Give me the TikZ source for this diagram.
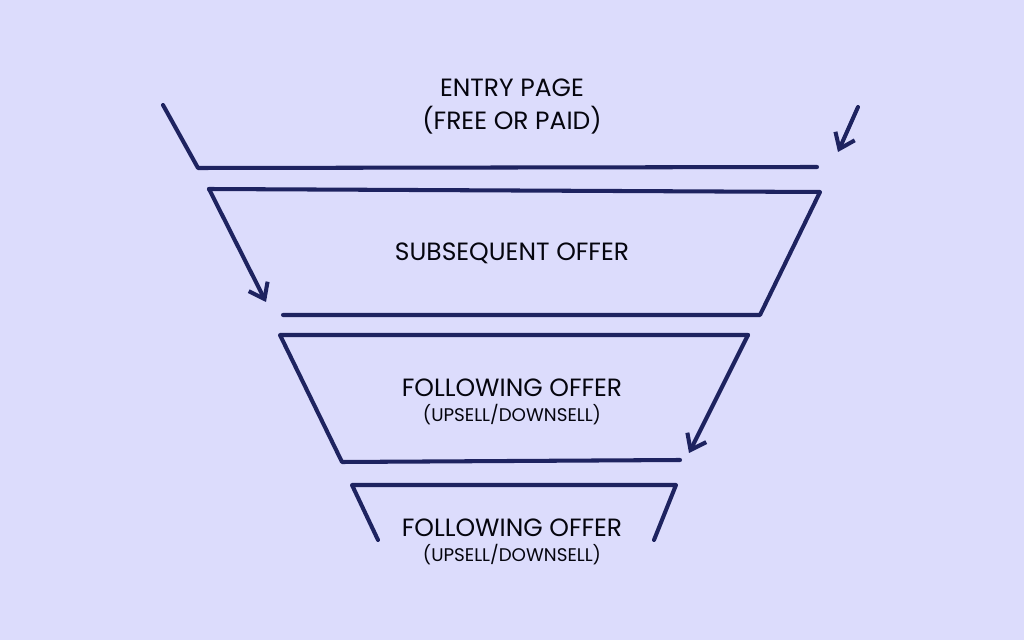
\documentclass[tikz,border=0pt]{standalone}
\usepackage{fontspec}
\setmainfont{Poppins}
\usetikzlibrary{arrows.meta}
\definecolor{bg}{HTML}{DCDCFC}
\definecolor{ink}{HTML}{1E2360}
\begin{document}
\begin{tikzpicture}[x=0.01cm,y=-0.01cm,
  stroke/.style={draw=ink,line width=1.15pt,line cap=round,line join=round},
  arr/.style={stroke,-{Straight Barb[length=4pt,width=6pt]}},
  big/.style={text=black!85!ink,font=\fontsize{7.1}{8}\selectfont},
  small/.style={text=black!85!ink,font=\fontsize{5.2}{6}\selectfont}]
\fill[bg] (0,0) rectangle (1024,640);
\useasboundingbox (0,0) rectangle (1024,640);
% level 1
\coordinate (a1) at (163,105); \coordinate (a2) at (198,168); \coordinate (a3) at (817,167);
\draw[stroke] (a1) -- (a2) -- (a3);
\coordinate (r1) at (858,107); \coordinate (r2) at (838,152);
\draw[arr] (r1) -- (r2);
\node[big] (t1) at (512,88) {ENTRY PAGE};
\node[big] (t1b) at (512,120) {(FREE OR PAID)};
% level 2
\coordinate (b1) at (209,189); \coordinate (b2) at (820,192); \coordinate (b3) at (760,315);
\coordinate (b4) at (283,315); \coordinate (b5) at (266,302);
\draw[stroke] (b1) -- (b2) -- (b3) -- (b4);
\draw[arr] (b1) -- (b5);
\node[big] (t2) at (512,253) {SUBSEQUENT OFFER};
% level 3
\coordinate (c1) at (280,335); \coordinate (c2) at (748,335); \coordinate (c3) at (342,462);
\coordinate (c4) at (680,460); \coordinate (c5) at (689,453);
\draw[stroke] (c2) -- (c1) -- (c3) -- (c4);
\draw[arr] (c2) -- (c5);
\node[big] (t3) at (512,388) {FOLLOWING OFFER};
\node[small] (t3b) at (512,415) {(UPSELL/DOWNSELL)};
% level 4
\coordinate (d1) at (352,485); \coordinate (d2) at (676,485); \coordinate (d3) at (378,540);
\coordinate (d4) at (654,540);
\draw[stroke] (d3) -- (d1) -- (d2) -- (d4);
\node[big] (t4) at (512,528) {FOLLOWING OFFER};
\node[small] (t4b) at (512,555) {(UPSELL/DOWNSELL)};
\end{tikzpicture}
\end{document}
